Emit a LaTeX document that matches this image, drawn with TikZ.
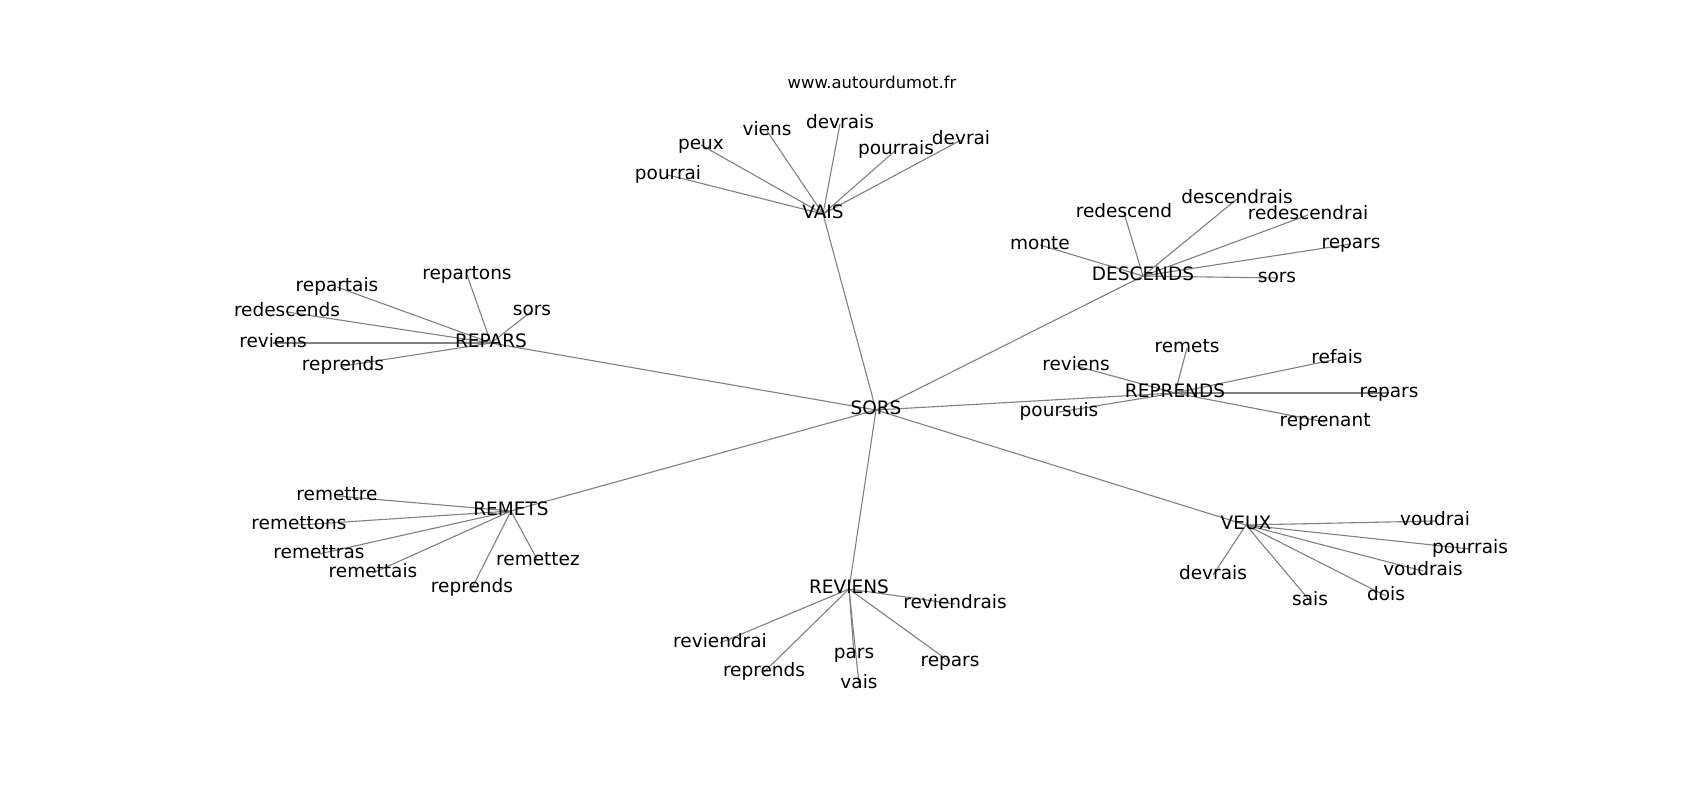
\documentclass[tikz,border=0pt]{standalone}
\usepackage{fontspec}
\setmainfont{DejaVu Sans}
\usetikzlibrary{backgrounds}
\tikzset{
  w/.style={inner sep=0pt, anchor=center, text height=14.05pt, text depth=4.45pt,
            font=\fontsize{18.5pt}{22pt}\selectfont, text=black},
  link/.style={draw=gray, line width=1.1pt},
  site/.style={inner sep=0pt, anchor=center, font=\fontsize{16.4pt}{20pt}\selectfont}
}
\begin{document}
\begin{tikzpicture}[x=1pt,y=-1pt]
\useasboundingbox (0,0) rectangle (1700,800);
\node[site] (site) at (872,82) {www.autourdumot.fr};
% hubs
\node[w] (SORS) at (876,410) {SORS};
\node[w] (VAIS) at (823,214) {VAIS};
\node[w] (DESC) at (1143,276) {DESCENDS};
\node[w] (REPA) at (491,343) {REPARS};
\node[w] (REPR) at (1175,393) {REPRENDS};
\node[w] (REME) at (511,511) {REMETS};
\node[w] (REVI) at (849,589) {REVIENS};
\node[w] (VEUX) at (1246,525) {VEUX};
% VAIS
\node[w] (v1) at (668,175) {pourrai};
\node[w] (v2) at (701,145) {peux};
\node[w] (v3) at (767,131) {viens};
\node[w] (v4) at (840,124) {devrais};
\node[w] (v5) at (896,150) {pourrais};
\node[w] (v6) at (961,140) {devrai};
% DESCENDS
\node[w] (d1) at (1040,245) {monte};
\node[w] (d2) at (1124,213) {redescend};
\node[w] (d3) at (1237,199) {descendrais};
\node[w] (d4) at (1308,215) {redescendrai};
\node[w] (d5) at (1351,244) {repars};
\node[w] (d6) at (1277,278) {sors};
% REPARS
\node[w] (p1) at (467,275) {repartons};
\node[w] (p2) at (337,287) {repartais};
\node[w] (p3) at (287,312) {redescends};
\node[w] (p4) at (273,343) {reviens};
\node[w] (p5) at (343,366) {reprends};
\node[w] (p6) at (532,311) {sors};
% REPRENDS
\node[w] (r1) at (1076,366) {reviens};
\node[w] (r2) at (1187,348) {remets};
\node[w] (r3) at (1337,359) {refais};
\node[w] (r4) at (1389,393) {repars};
\node[w] (r5) at (1325,422) {reprenant};
\node[w] (r6) at (1059,412) {poursuis};
% REMETS
\node[w] (m1) at (337,496) {remettre};
\node[w] (m2) at (299,525) {remettons};
\node[w] (m3) at (319,554) {remettras};
\node[w] (m4) at (373,573) {remettais};
\node[w] (m5) at (472,588) {reprends};
\node[w] (m6) at (538,561) {remettez};
% REVIENS
\node[w] (e1) at (955,604) {reviendrais};
\node[w] (e2) at (720,643) {reviendrai};
\node[w] (e3) at (764,672) {reprends};
\node[w] (e4) at (854,654) {pars};
\node[w] (e5) at (859,684) {vais};
\node[w] (e6) at (950,662) {repars};
% VEUX
\node[w] (x1) at (1435,521) {voudrai};
\node[w] (x2) at (1470,549) {pourrais};
\node[w] (x3) at (1423,571) {voudrais};
\node[w] (x4) at (1386,596) {dois};
\node[w] (x5) at (1310,601) {sais};
\node[w] (x6) at (1213,575) {devrais};
\begin{pgfonlayer}{background}
\fill[white] (0,0) rectangle (1700,800);
\foreach \h in {VAIS,DESC,REPA,REPR,REME,REVI,VEUX}
  \draw[link] (SORS.center) -- (\h.center);
\foreach \i in {1,...,6} {
  \draw[link] (VAIS.center) -- (v\i.center);
  \draw[link] (DESC.center) -- (d\i.center);
  \draw[link] (REPA.center) -- (p\i.center);
  \draw[link] (REPR.center) -- (r\i.center);
  \draw[link] (REME.center) -- (m\i.center);
  \draw[link] (REVI.center) -- (e\i.center);
  \draw[link] (VEUX.center) -- (x\i.center);
}
\end{pgfonlayer}
\end{tikzpicture}
\end{document}
